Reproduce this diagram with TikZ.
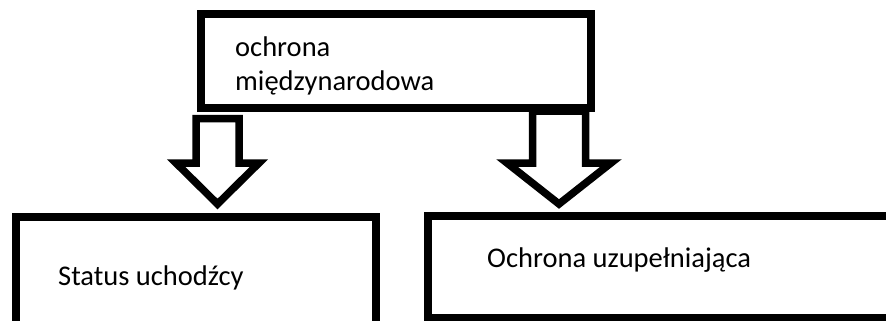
\documentclass[tikz,border=0pt]{standalone}
\usepackage{fontspec}
\setmainfont{Carlito}
\usetikzlibrary{calc}
\tikzset{
  boxnode/.style={draw=black, line width=8pt, rectangle, inner sep=0pt},
  lbl/.style={anchor=base west, inner sep=0pt, font=\fontsize{28.5}{33}\selectfont},
  blockarrow/.style={draw=black, line width=7.5pt, line join=miter, fill=white}
}
\begin{document}
\begin{tikzpicture}[x=1pt,y=-1pt]
\useasboundingbox (0,0) rectangle (886,321);
\clip (0,0) rectangle (886,321);
\fill[white] (0,0) rectangle (886,321);
% boxes
\node[boxnode, minimum width=389.5pt, minimum height=93.5pt] (top) at (395.75,60.75) {};
\node[boxnode, minimum width=359.5pt, minimum height=125pt] (left) at (195.75,279.5) {};
\node[boxnode, minimum width=520pt, minimum height=101.5pt] (right) at (687.5,266.75) {};
% texts
\node[lbl] (t1) at (235,57) {ochrona};
\node[lbl] (t2) at (235,90) {międzynarodowa};
\node[lbl] (t3) at (58,285) {Status uchodźcy};
\node[lbl] (t4) at (487,267) {Ochrona uzupełniająca};
% arrow anchors
\coordinate (aLtop) at (217.5,118.5);
\coordinate (aLtip) at (217.5,204);
\coordinate (aRtop) at (559,111);
\coordinate (aRtip) at (559,204);
% left block arrow
\draw[blockarrow] ($(aLtop)+(-21.5,0)$) -- ($(aLtop)+(21.5,0)$) -- ($(aLtop)+(21.5,44.5)$)
  -- ($(aLtop)+(41.5,44.5)$) -- (aLtip) -- ($(aLtop)+(-41.5,44.5)$) -- ($(aLtop)+(-21.5,44.5)$) -- cycle;
% right block arrow
\draw[blockarrow] ($(aRtop)+(-26.5,0)$) -- ($(aRtop)+(26.5,0)$) -- ($(aRtop)+(26.5,52)$)
  -- ($(aRtop)+(52,52)$) -- (aRtip) -- ($(aRtop)+(-52,52)$) -- ($(aRtop)+(-26.5,52)$) -- cycle;
\end{tikzpicture}
\end{document}
